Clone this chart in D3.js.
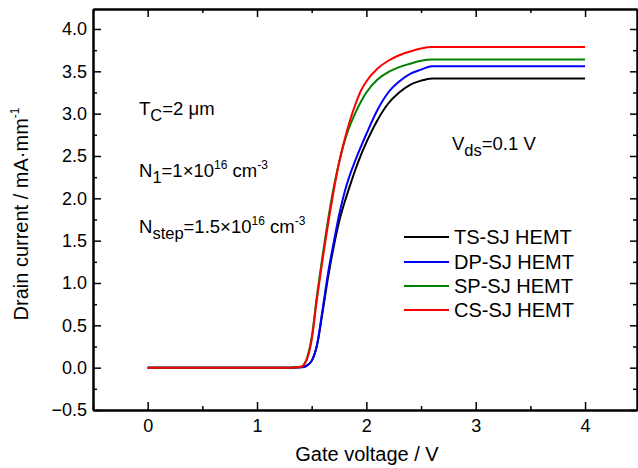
<!DOCTYPE html>
<html><head><meta charset="utf-8">
<script src="https://cdn.jsdelivr.net/npm/d3@7"></script>
<style>
body{margin:0;background:#fff;}
text{font-family:"Liberation Sans",Arial,Helvetica,sans-serif;fill:#000;}
</style></head>
<body>
<svg id="chart" width="638" height="468"></svg>
<script>
// ---- data ----
const gateVoltage = [0, 0.5, 1.0, 1.3, 1.4, 1.45, 1.5, 1.55, 1.6, 1.65, 1.7, 1.75, 1.8, 1.85, 1.9, 1.95, 2.0, 2.1, 2.2, 2.3, 2.4, 2.5, 2.6, 3.0, 3.5, 4.0];
const tsSJ = [0, 0, 0, 0, 0.005, 0.02, 0.08, 0.27, 0.66, 1.07, 1.42, 1.72, 1.95, 2.15, 2.34, 2.51, 2.66, 2.92, 3.12, 3.25, 3.34, 3.39, 3.416, 3.416, 3.416, 3.416];
const dpSJ = [0, 0, 0, 0, 0.005, 0.02, 0.08, 0.28, 0.69, 1.12, 1.47, 1.80, 2.07, 2.28, 2.45, 2.61, 2.76, 3.04, 3.25, 3.38, 3.47, 3.52, 3.56, 3.56, 3.56, 3.56];
const spSJ = [0, 0, 0, 0, 0.01, 0.09, 0.36, 0.87, 1.33, 1.75, 2.12, 2.42, 2.67, 2.86, 3.01, 3.14, 3.25, 3.40, 3.49, 3.55, 3.59, 3.625, 3.64, 3.64, 3.64, 3.64];
const csSJ = [0, 0, 0, 0, 0.01, 0.08, 0.33, 0.83, 1.28, 1.70, 2.08, 2.42, 2.69, 2.92, 3.11, 3.27, 3.38, 3.53, 3.625, 3.69, 3.735, 3.77, 3.786, 3.786, 3.786, 3.786];
const seriesNames = ["TS-SJ HEMT", "DP-SJ HEMT", "SP-SJ HEMT", "CS-SJ HEMT"];
const seriesColors = ["#000000", "#0000ff", "#008000", "#ff0000"];
const seriesValues = [tsSJ, dpSJ, spSJ, csSJ];
const xTicks = [0, 1, 2, 3, 4];
const xMinorTicks = [-0.5, 0.5, 1.5, 2.5, 3.5];
const yTicks = [-0.5, 0.0, 0.5, 1.0, 1.5, 2.0, 2.5, 3.0, 3.5, 4.0];
const yMinorTicks = [-0.25, 0.25, 0.75, 1.25, 1.75, 2.25, 2.75, 3.25, 3.75];

// ---- layout ----
const L = 93, R = 637, T = 9, B = 410;
const svg = d3.select("#chart");
const x = d3.scaleLinear().domain([-0.5, 4.475]).range([L, R]);
const y = d3.scaleLinear().domain([-0.5, 4.236]).range([B, T]);

// curves
const line = d3.line().x(d => x(d[0])).y(d => y(d[1])).curve(d3.curveMonotoneX);
seriesValues.forEach((vals, i) => {
  svg.append("path")
    .datum(gateVoltage.map((g, j) => [g, vals[j]]))
    .attr("d", line)
    .attr("fill", "none")
    .attr("stroke", seriesColors[i])
    .attr("stroke-width", 2);
});

// axes
function styleAxis(g) {
  g.selectAll(".domain").attr("stroke", "#000").attr("stroke-width", 2);
  g.selectAll(".tick line").attr("stroke", "#000").attr("stroke-width", 1.5);
}
const fmt = d3.format(".1f");
svg.append("g").attr("transform", `translate(0,${B})`)
  .call(d3.axisBottom(x).tickValues(xTicks).tickSize(-8).tickPadding(9).tickSizeOuter(0).tickFormat(d3.format("d")))
  .call(styleAxis)
  .call(g => g.selectAll("text").attr("font-size", 18).attr("font-family", "Liberation Sans, Arial"));
svg.append("g").attr("transform", `translate(0,${B})`)
  .call(d3.axisBottom(x).tickValues(xMinorTicks).tickSize(-4).tickFormat("").tickSizeOuter(0))
  .call(styleAxis);
svg.append("g").attr("transform", `translate(0,${T})`)
  .call(d3.axisTop(x).tickValues(xTicks).tickSize(-8).tickFormat("").tickSizeOuter(0))
  .call(styleAxis);
svg.append("g").attr("transform", `translate(0,${T})`)
  .call(d3.axisTop(x).tickValues(xMinorTicks).tickSize(-4).tickFormat("").tickSizeOuter(0))
  .call(styleAxis);
svg.append("g").attr("transform", `translate(${L},0)`)
  .call(d3.axisLeft(y).tickValues(yTicks).tickSize(-8).tickPadding(6).tickSizeOuter(0).tickFormat(fmt))
  .call(styleAxis)
  .call(g => g.selectAll("text").attr("font-size", 18).attr("font-family", "Liberation Sans, Arial"));
svg.append("g").attr("transform", `translate(${L},0)`)
  .call(d3.axisLeft(y).tickValues(yMinorTicks).tickSize(-4).tickFormat("").tickSizeOuter(0))
  .call(styleAxis);
svg.append("g").attr("transform", `translate(${R},0)`)
  .call(d3.axisRight(y).tickValues(yTicks).tickSize(-7).tickFormat("").tickSizeOuter(0))
  .call(styleAxis);
svg.append("g").attr("transform", `translate(${R},0)`)
  .call(d3.axisRight(y).tickValues(yMinorTicks).tickSize(-4).tickFormat("").tickSizeOuter(0))
  .call(styleAxis);

// axis titles
svg.append("text").attr("x", 367).attr("y", 461)
  .attr("text-anchor", "middle").attr("font-size", 20).text("Gate voltage / V");
const yt = svg.append("text").attr("transform", "translate(28,214) rotate(-90)")
  .attr("text-anchor", "middle").attr("font-size", 20);
yt.append("tspan").text("Drain current / mA\u00B7mm");
yt.append("tspan").attr("font-size", 12).attr("dy", -9).text("-1");

// annotations
function rich(xp, yp, parts) {
  const t = svg.append("text").attr("x", xp).attr("y", yp).attr("font-size", 18.5);
  let shift = 0;
  parts.forEach(p => {
    const target = p.sub ? 6 : p.sup ? -8 : 0;
    const sp = t.append("tspan").attr("dy", target - shift).text(p.t);
    if (p.sub) sp.attr("font-size", 16.5);
    if (p.sup) sp.attr("font-size", 12);
    shift = target;
  });
  return t;
}
rich(139, 115, [{t: "T"}, {t: "C", sub: true}, {t: "=2 \u03BCm"}]);
rich(139, 177, [{t: "N"}, {t: "1", sub: true}, {t: "=1\u00D710"}, {t: "16", sup: true}, {t: " cm"}, {t: "-3", sup: true}]);
rich(139, 233, [{t: "N"}, {t: "step", sub: true}, {t: "=1.5\u00D710"}, {t: "16", sup: true}, {t: " cm"}, {t: "-3", sup: true}]);
rich(452, 150, [{t: "V"}, {t: "ds", sub: true}, {t: "=0.1 V"}]);

// legend
const legRows = [237, 262, 286, 310];
seriesNames.forEach((name, i) => {
  svg.append("line").attr("x1", 404).attr("x2", 449).attr("y1", legRows[i]).attr("y2", legRows[i])
    .attr("stroke", seriesColors[i]).attr("stroke-width", 2);
  svg.append("text").attr("x", 454).attr("y", legRows[i] + 7).attr("font-size", 20).text(name);
});
</script>
</body></html>
